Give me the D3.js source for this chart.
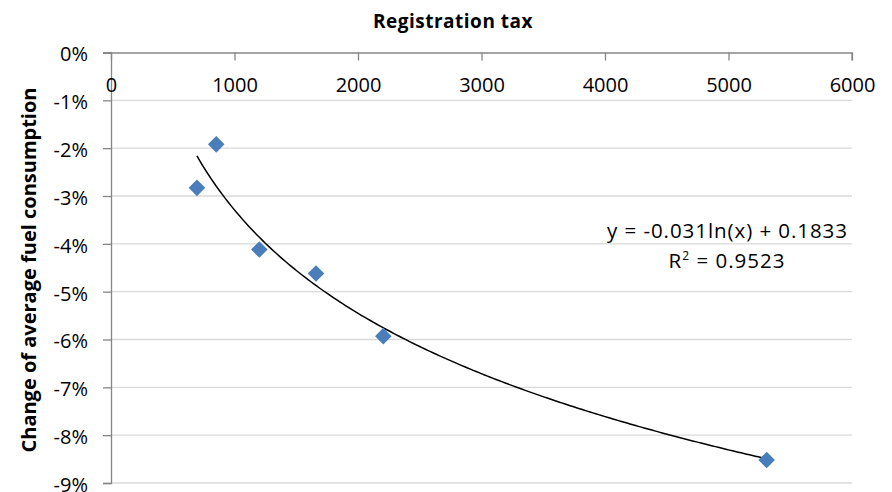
<!DOCTYPE html>
<html>
<head>
<meta charset="utf-8">
<script src="https://cdn.jsdelivr.net/npm/d3@7"></script>
<style>
  html, body { margin: 0; padding: 0; background: #fff; }
  svg { display: block; }
  text { font-family: "Open Sans", "Liberation Sans", sans-serif; fill: #000; }
</style>
</head>
<body>
<script>
// ---- data ----
const taxValues = [696, 852, 1201, 1660, 2205, 5309];           // registration tax
const fuelChange = [-0.0283, -0.0192, -0.0412, -0.0462, -0.0593, -0.0852]; // change of avg fuel consumption
const xTicks = [0, 1000, 2000, 3000, 4000, 5000, 6000];
const yTicks = [0, -0.01, -0.02, -0.03, -0.04, -0.05, -0.06, -0.07, -0.08, -0.09];
const chartTitle = "Registration tax";
const yTitle = "Change of average fuel consumption";
const eqLabel = "y = -0.031ln(x) + 0.1833";
const r2Label = "0.9523";

const W = 892, H = 492;
const svg = d3.select("body").append("svg").attr("width", W).attr("height", H);

const x = d3.scaleLinear().domain([0, 6000]).range([111, 852]);
const y = d3.scaleLinear().domain([0, -0.09]).range([52.5, 483]);

// gridlines
svg.append("g").selectAll("line").data(yTicks.slice(1)).join("line")
  .attr("x1", x(0)).attr("x2", x(6000))
  .attr("y1", d => y(d)).attr("y2", d => y(d))
  .attr("stroke", "#d9d9d9").attr("stroke-width", 1.3);

// left axis
const yAxis = d3.axisLeft(y).tickValues(yTicks).tickSize(8).tickFormat(d => d3.format(".0%")(d).replace("−", "-"));
const gy = svg.append("g").attr("transform", `translate(${x(0)},0)`).call(yAxis);
gy.select(".domain").attr("stroke", "#868686").attr("stroke-width", 1.3);
gy.selectAll(".tick line").attr("stroke", "#868686").attr("stroke-width", 1.3);
gy.selectAll(".tick text").attr("x", -23).attr("dy", "0.42em")
  .style("font-size", "20px").style("font-family", "'Open Sans', sans-serif").attr("fill", "#000");

// top axis (crosses at 0%)
const xAxis = d3.axisBottom(x).tickValues(xTicks).tickSize(8).tickFormat(d3.format("d"));
const gx = svg.append("g").attr("transform", `translate(0,${y(0)})`).call(xAxis);
gx.select(".domain").attr("d", `M${x(0) - 8},0.5H${x(6000)}V8`).attr("stroke", "#868686").attr("stroke-width", 1.3);
gx.selectAll(".tick line").attr("stroke", "#868686").attr("stroke-width", 1.3);
gx.selectAll(".tick text").attr("y", 25).attr("dy", "0.71em")
  .style("font-size", "20px").style("font-family", "'Open Sans', sans-serif").attr("fill", "#000");

// logarithmic trendline (least squares on ln x)
const lx = taxValues.map(Math.log);
const mx = d3.mean(lx), my = d3.mean(fuelChange);
const slope = d3.sum(lx, (v, i) => (v - mx) * (fuelChange[i] - my)) / d3.sum(lx, v => (v - mx) ** 2);
const icpt = my - slope * mx;
const [xmin, xmax] = d3.extent(taxValues);
const trendPts = d3.range(0, 201).map(i => {
  const xv = xmin + (xmax - xmin) * i / 200;
  return [xv, slope * Math.log(xv) + icpt];
});
svg.append("path").datum(trendPts)
  .attr("d", d3.line().x(d => x(d[0])).y(d => y(d[1])))
  .attr("fill", "none").attr("stroke", "#000").attr("stroke-width", 1.5);

// markers
svg.append("g").selectAll("path").data(taxValues).join("path")
  .attr("transform", (d, i) => `translate(${x(d)},${y(fuelChange[i])})`)
  .attr("d", d3.symbol(d3.symbolDiamond2, 175)())
  .attr("fill", "#4a7ebb");

// title
svg.append("text").attr("x", 453).attr("y", 28).attr("text-anchor", "middle")
  .style("font-size", "19px").style("font-weight", "bold").style("letter-spacing", "0.5px").text(chartTitle);

// y title
svg.append("text").attr("transform", "translate(36,270) rotate(-90)").attr("text-anchor", "middle")
  .style("font-size", "20px").style("font-weight", "bold").text(yTitle);

// equation
svg.append("text").attr("x", 727).attr("y", 238).attr("text-anchor", "middle")
  .attr("textLength", 240).attr("lengthAdjust", "spacing")
  .style("font-size", "20.5px").text(eqLabel);
const r2 = svg.append("text").attr("x", 727).attr("y", 268).attr("text-anchor", "middle")
  .style("font-size", "20.5px").style("letter-spacing", "1px");
r2.append("tspan").text("R");
r2.append("tspan").attr("dy", -8).style("font-size", "12px").text("2");
r2.append("tspan").attr("dy", 8).text(" = " + r2Label);
</script>
</body>
</html>
